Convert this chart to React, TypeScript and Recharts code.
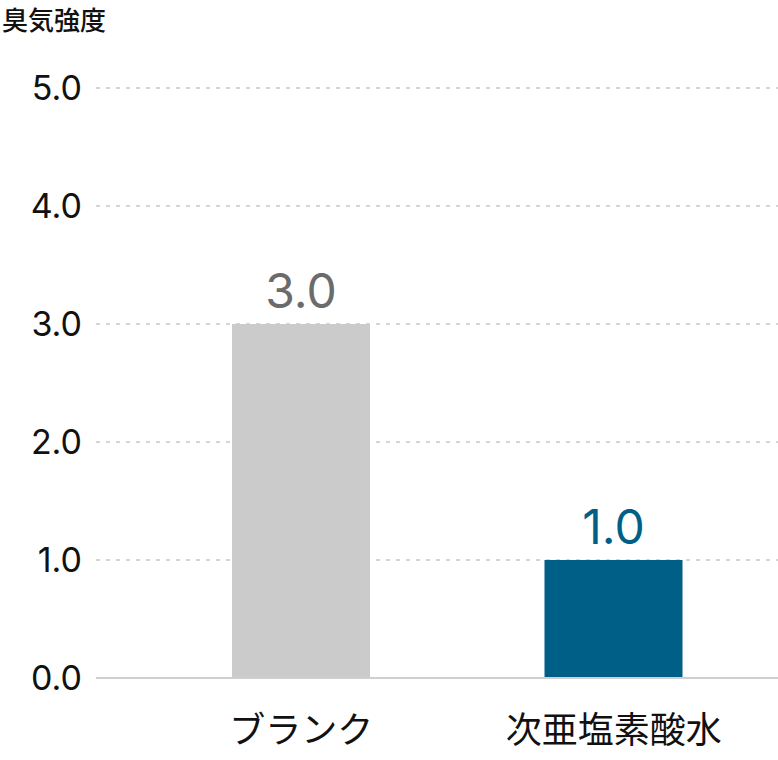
import { BarChart, Bar, XAxis, YAxis, CartesianGrid, Cell, LabelList } from "recharts";

const categories = ["ブランク", "次亜塩素酸水"];
const odorValues = [3.0, 1.0];
const yTicks = [0, 1, 2, 3, 4, 5];

const BAR_COLORS = ["#cbcbcb", "#005f87"];
const LABEL_COLORS = ["#6b6b6b", "#005f87"];
const FONT = '"Noto Sans CJK JP", "Noto Sans", sans-serif';
const NUM_FONT = 'Inter, "Noto Sans CJK JP", sans-serif';

const data = categories.map((name, i) => ({ name, value: odorValues[i] }));

function ValueLabel(props: any) {
  const { x, y, width, value, index } = props;
  return (
    <text
      x={x + width / 2}
      y={y - 16}
      textAnchor="middle"
      fill={LABEL_COLORS[index]}
      fontSize={48}
      fontFamily={NUM_FONT}
    >
      {Number(value).toFixed(1)}
    </text>
  );
}

export default function App() {
  return (
    <div style={{ position: "absolute", left: 0, top: 0, width: 778, height: 760, fontFamily: FONT }}>
      <div
        style={{
          position: "absolute",
          left: 2,
          top: 0,
          fontSize: 26,
          fontWeight: 500,
          color: "#111",
          lineHeight: "normal",
        }}
      >
        臭気強度
      </div>
      <BarChart width={778} height={760} data={data} margin={{ top: 88, right: 0, bottom: 0, left: 0 }}>
        <CartesianGrid vertical={false} stroke="#c8c8c8" strokeDasharray="4 6" strokeWidth={1.5} />
        <XAxis
          dataKey="name"
          height={82}
          tickLine={false}
          axisLine={{ stroke: "#cfcfcf", strokeWidth: 2 }}
          tickMargin={33}
          padding={{ left: 49, right: 8 }}
          tick={{ fill: "#111", fontSize: 36, fontFamily: FONT }}
        />
        <YAxis
          width={96}
          domain={[0, 5]}
          ticks={yTicks}
          tickFormatter={(v: number) => v.toFixed(1)}
          tickLine={false}
          axisLine={false}
          tickMargin={8}
          tick={{ fill: "#111", fontSize: 34, fontFamily: NUM_FONT }}
        />
        <Bar dataKey="value" barSize={138} isAnimationActive={false}>
          {data.map((_, i) => (
            <Cell key={i} fill={BAR_COLORS[i]} />
          ))}
          <LabelList dataKey="value" content={ValueLabel} />
        </Bar>
      </BarChart>
    </div>
  );
}
